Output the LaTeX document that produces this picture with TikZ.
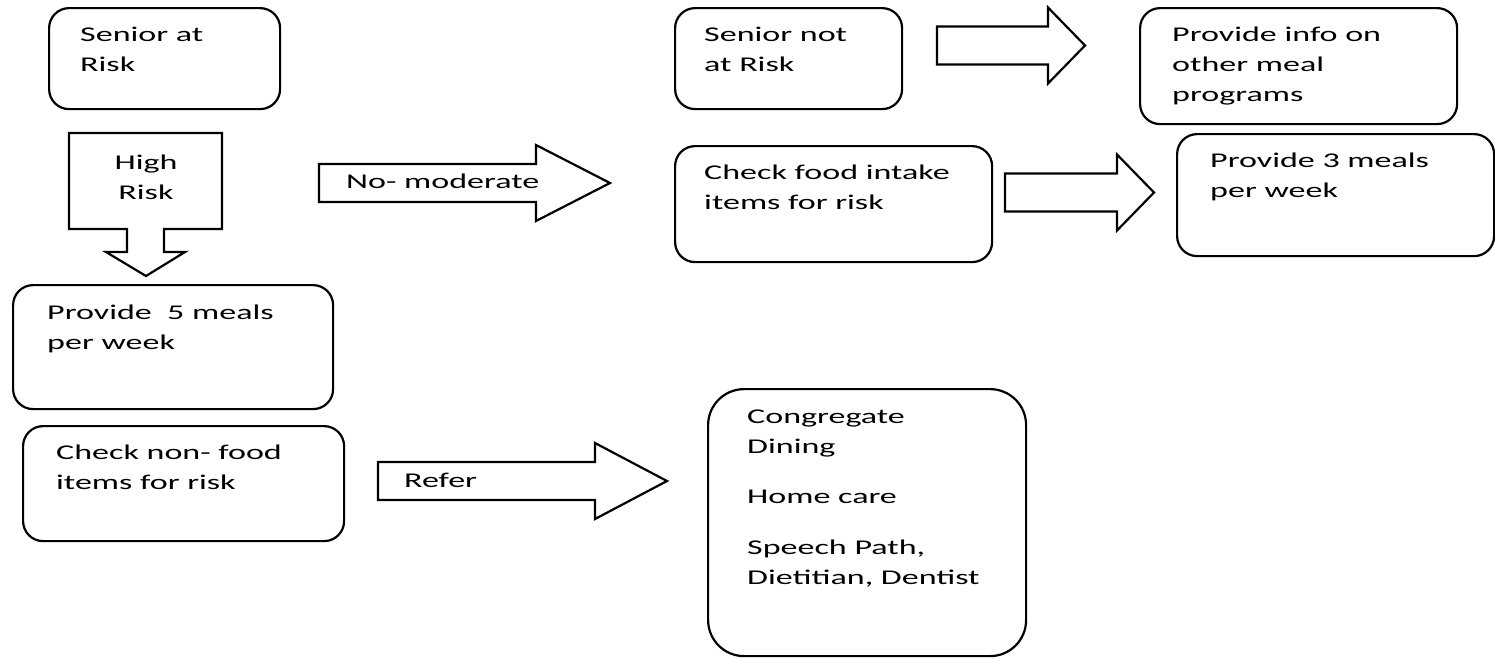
\documentclass[tikz,border=0pt]{standalone}
\usepackage{fontspec}
\setmainfont{Carlito}[FakeStretch=1.62]
\usetikzlibrary{positioning}

\tikzset{
  box/.style={draw, line width=2.2pt, rounded corners=20pt, anchor=north west, inner sep=0pt},
  txt/.style={inner sep=0pt, align=left, font=\fontsize{21}{30}\selectfont},
  blockarrow/.style={draw, line width=2.2pt, line join=miter},
}

\begin{document}
\begin{tikzpicture}[x=1pt, y=-1pt]
      \useasboundingbox (0,0) rectangle (1495,657);

      % boxes
      \node[box, minimum width=231, minimum height=101] (atrisk) at (48,7) {};
      \node[box, minimum width=227, minimum height=101] (notrisk) at (674,7) {};
      \node[box, minimum width=317, minimum height=116] (info) at (1139,7) {};
      \node[box, minimum width=317, minimum height=116] (food) at (674,145) {};
      \node[box, minimum width=317, minimum height=122] (three) at (1176,133) {};
      \node[box, minimum width=320, minimum height=124] (five) at (12,284) {};
      \node[box, minimum width=321, minimum height=115] (nonfood) at (22,425) {};
      \node[box, minimum width=318, minimum height=267, rounded corners=36pt] (refer) at (707,388) {};

      % texts in the boxes
      \node[txt, below right=20pt and 32pt of atrisk.north west] (atriskT) {Senior at\\Risk};
      \node[txt, below right=20pt and 30pt of notrisk.north west] (notriskT) {Senior not\\at Risk};
      \node[txt, below right=20pt and 33pt of info.north west] (infoT) {Provide info on\\other meal\\programs};
      \node[txt, below right=20pt and 30pt of food.north west] (foodT) {Check food intake\\items for risk};
      \node[txt, below right=20pt and 34pt of three.north west] (threeT) {Provide 3 meals\\per week};
      \node[txt, below right=21pt and 35pt of five.north west] (fiveT) {Provide\ \ 5 meals\\per week};
      \node[txt, below right=20pt and 34pt of nonfood.north west] (nonfoodT) {Check non- food\\items for risk};
      \node[txt, below right=22pt and 40pt of refer.north west] (referT)
        {Congregate\\Dining\\[20pt]Home care\\[21pt]Speech Path,\\Dietitian, Dentist};

      % down arrow under the first box
      \draw[blockarrow] (69,133) -- (222,133) -- (222,229) -- (164,229) -- (164,252)
        -- (185,252) -- (146,276) -- (106,252) -- (127,252) -- (127,229) -- (69,229) -- cycle;
      \node[txt, align=center, anchor=north] (highT) at (146,155) {High\\Risk};

      % block arrows to the right: tail x / centre y / head x / tip x
      \foreach \tx/\cy/\hx/\px in {319/183/536/610, 937/45.5/1048/1085,
                                   1005/192.5/1117/1154, 378/481/595/667}
        \draw[blockarrow] (\tx,\cy-19) -- (\hx,\cy-19) -- (\hx,\cy-38) -- (\px,\cy)
          -- (\hx,\cy+38) -- (\hx,\cy+19) -- (\tx,\cy+19) -- cycle;

      \node[txt, anchor=base west] (nomodT) at (346,188) {No- moderate};
      \node[txt, anchor=base west] (referA) at (404,487) {Refer};
\end{tikzpicture}
\end{document}
